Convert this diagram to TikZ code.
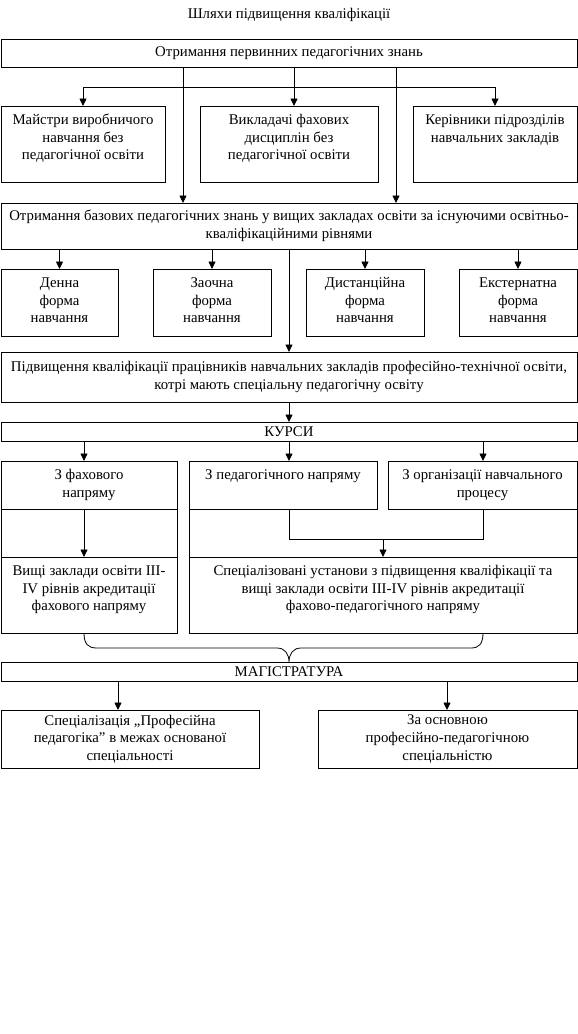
\documentclass[tikz,border=0pt]{standalone}
\usepackage{fontspec}
\setmainfont{Liberation Serif}
\usetikzlibrary{arrows.meta,calc}
\begin{document}
\begin{tikzpicture}[x=1pt,y=-1pt,
  every node/.style={font=\fontsize{14.8}{17.6}\selectfont},
  box/.style={draw, line width=0.8pt, inner sep=0pt, outer sep=0pt, anchor=north west, align=center},
  txt/.style={anchor=north, inner sep=0pt, align=center},
  ln/.style={line width=0.8pt},
  arr/.style={line width=0.8pt, -{Triangle[length=7.5pt,width=7pt]}}]
\useasboundingbox (0,0) rectangle (578,1034);

% column coordinates
\coordinate (x183) at (183,0);
\coordinate (x294) at (294,0);
\coordinate (x396) at (396,0);
\coordinate (j1) at (0,87);
\coordinate (xL) at (84,0);
\coordinate (xP) at (289,0);
\coordinate (xO) at (483,0);
\coordinate (j2) at (0,539);
\coordinate (xM1) at (118,0);
\coordinate (xM2) at (447,0);

\node (title) at (289,15) {Шляхи підвищення кваліфікації};

\node[box, minimum width=576pt, minimum height=28pt] (b1) at (1,39) {Отримання первинних педагогічних знань};

\node[box, minimum width=164pt, minimum height=76pt] (m1) at (1,106) {};
\node[txt] (m1t) at ([yshift=-6pt]m1.north) {\strut Майстри виробничого\\навчання без\\педагогічної освіти};
\node[box, minimum width=178pt, minimum height=76pt] (v1) at (200,106) {};
\node[txt] (v1t) at ([yshift=-6pt]v1.north) {\strut Викладачі фахових\\дисциплін без\\педагогічної освіти};
\node[box, minimum width=164pt, minimum height=76pt] (k1) at (413,106) {};
\node[txt] (k1t) at ([yshift=-6pt]k1.north) {\strut Керівники підрозділів\\навчальних закладів};

\node[box, minimum width=576pt, minimum height=46pt] (b2) at (1,203) {Отримання базових педагогічних знань у вищих закладах освіти за існуючими освітньо-\\кваліфікаційними рівнями};

\node[box, minimum width=117pt, minimum height=67pt] (f1) at (1,269) {};
\node[txt] (f1t) at ([yshift=-6pt]f1.north) {\strut Денна\\форма\\навчання};
\node[box, minimum width=118pt, minimum height=67pt] (f2) at (153,269) {};
\node[txt] (f2t) at ([yshift=-6pt]f2.north) {\strut Заочна\\форма\\навчання};
\node[box, minimum width=118pt, minimum height=67pt] (f3) at (306,269) {};
\node[txt] (f3t) at ([yshift=-6pt]f3.north) {\strut Дистанційна\\форма\\навчання};
\node[box, minimum width=118pt, minimum height=67pt] (f4) at (459,269) {};
\node[txt] (f4t) at ([yshift=-6pt]f4.north) {\strut Екстернатна\\форма\\навчання};

\node[box, minimum width=576pt, minimum height=50pt] (b3) at (1,352) {Підвищення кваліфікації працівників навчальних закладів професійно-технічної освіти,\\котрі мають спеціальну педагогічну освіту};

\node[box, minimum width=576pt, minimum height=19pt] (kurs) at (1,422) {КУРСИ};

\node[box, minimum width=176pt, minimum height=48pt] (lct) at (1,461) {};
\node[txt] (lctt) at ([yshift=-6pt]lct.north) {\strut З фахового\\напряму};
\node[box, minimum width=176pt, minimum height=76pt] (lcb) at (1,557) {};
\node[txt] (lcbt) at ([yshift=-6pt]lcb.north) {\strut Вищі заклади освіти III-\\IV рівнів акредитації\\фахового напряму};

\node[box, minimum width=188pt, minimum height=48pt] (rp) at (189,461) {};
\node[txt] (rpt) at ([yshift=-6pt]rp.north) {\strut З педагогічного напряму};
\node[box, minimum width=189pt, minimum height=48pt] (ro) at (388,461) {};
\node[txt] (rot) at ([yshift=-6pt]ro.north) {\strut З організації навчального\\процесу};
\node[box, minimum width=388pt, minimum height=76pt] (rb) at (189,557) {};
\node[txt] (rbt) at ([yshift=-6pt]rb.north) {\strut Спеціалізовані установи з підвищення кваліфікації та\\вищі заклади освіти III-IV рівнів акредитації\\фахово-педагогічного напряму};

\node[box, minimum width=576pt, minimum height=19pt] (mag) at (1,662) {МАГІСТРАТУРА};

\node[box, minimum width=258pt, minimum height=58pt] (s1) at (1,710) {Спеціалізація „Професійна\\педагогіка” в межах основаної\\спеціальності};
\node[box, minimum width=259pt, minimum height=58pt] (s2) at (318,710) {За основною\\професійно-педагогічною\\спеціальністю};

% connectors, top part
\draw[arr] (b1.south -| x183) -- (b2.north -| x183);
\draw[arr] (b1.south -| x396) -- (b2.north -| x396);
\draw[arr] (b1.south -| x294) -- (v1.north -| x294);
\draw[ln] (m1.north |- j1) -- (k1.north |- j1);
\draw[arr] (m1.north |- j1) -- (m1.north);
\draw[arr] (k1.north |- j1) -- (k1.north);

\foreach \f in {f1,f2,f3,f4} {\draw[arr] (b2.south -| \f.north) -- (\f.north);}
\draw[arr] (b2.south -| b3.north) -- (b3.north);
\draw[arr] (b3.south) -- (kurs.north);

\draw[arr] (kurs.south -| xL) -- (lct.north -| xL);
\draw[arr] (kurs.south -| xP) -- (rp.north -| xP);
\draw[arr] (kurs.south -| xO) -- (ro.north -| xO);

% column sides
\draw[ln] (lct.south west) -- (lcb.north west);
\draw[ln] (lct.south east) -- (lcb.north east);
\draw[ln] (rp.south west) -- (rb.north west);
\draw[ln] (ro.south east) -- (rb.north east);

\draw[arr] (lct.south -| xL) -- (lcb.north -| xL);
\draw[ln] (rp.south -| xP) -- (xP |- j2) -- (xO |- j2) -- (ro.south -| xO);
\draw[arr] (rb.north |- j2) -- (rb.north);

% brace
\coordinate (bl) at (lcb.south -| xL);
\coordinate (br) at (rb.south -| xO);
\coordinate (tip) at (mag.north -| xP);
\draw[ln] (bl) .. controls (84,644) and (88,648) .. (97,648) -- (277,648)
  .. controls (285,648) and (289,654) .. (tip)
  .. controls (289,654) and (293,648) .. (301,648) -- (471,648)
  .. controls (479,648) and (483,644) .. (br);

\draw[arr] (mag.south -| xM1) -- (s1.north -| xM1);
\draw[arr] (mag.south -| xM2) -- (s2.north -| xM2);
\end{tikzpicture}
\end{document}
